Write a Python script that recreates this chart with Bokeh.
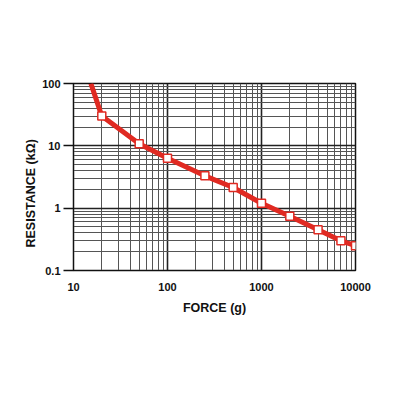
from bokeh.plotting import figure
from bokeh.models import FixedTicker, CustomJSTickFormatter, Title
from bokeh.embed import file_html
from bokeh.resources import INLINE

# data
force_g = [15.3, 20, 50, 100, 250, 500, 1000, 2000, 4000, 7000, 10000]
resistance_kohm = [100, 30, 10.8, 6.3, 3.3, 2.15, 1.2, 0.74, 0.45, 0.30, 0.25]
marker_force = force_g[1:]
marker_res = resistance_kohm[1:]

x_major = [10, 100, 1000, 10000]
y_major = [0.1, 1, 10, 100]
x_minor = [m * d for d in [10, 100, 1000] for m in range(2, 10)]
y_minor = [m * d for d in [0.1, 1, 10] for m in range(2, 10)]

p = figure(width=385, height=385, x_axis_type="log", y_axis_type="log",
           x_range=(10, 10000), y_range=(0.1, 100),
           output_backend="svg", toolbar_location=None,
           min_border_left=73, min_border_right=30, min_border_top=83, min_border_bottom=115)
p.background_fill_color = "white"
p.outline_line_color = "#111111"
p.outline_line_width = 1.5

p.xaxis.ticker = FixedTicker(ticks=x_major, minor_ticks=x_minor)
p.yaxis.ticker = FixedTicker(ticks=y_major, minor_ticks=y_minor)
p.xaxis.formatter = CustomJSTickFormatter(code="return String(tick);")
p.yaxis.formatter = CustomJSTickFormatter(code="return String(tick);")

for g in (p.xgrid, p.ygrid):
    g.grid_line_color = "#222222"
    g.grid_line_width = 1.6
    g.grid_line_alpha = 1
    g.minor_grid_line_color = "#555555"
    g.minor_grid_line_width = 1

for ax in (p.xaxis, p.yaxis):
    ax.axis_line_color = "#111111"
    ax.minor_tick_line_color = None
    ax.major_label_text_font = "Liberation Sans"
    ax.major_label_text_font_style = "bold"
    ax.major_label_text_font_size = "11px"
    ax.major_label_text_color = "#111111"
    ax.axis_label_text_font = "Liberation Sans"
    ax.axis_label_text_font_style = "bold"
    ax.axis_label_text_font_size = "12.5px"
    ax.axis_label_text_color = "#111111"
    ax.major_tick_line_color = "#111111"
    ax.major_tick_line_width = 1.5

p.xaxis.major_tick_out = 0
p.xaxis.major_tick_in = 0
p.xaxis.major_label_standoff = 8
p.xaxis.axis_label = "FORCE (g)"
p.xaxis.axis_label_standoff = 7

p.yaxis.major_tick_out = 10
p.yaxis.major_tick_in = 0
p.yaxis.major_label_standoff = 3

ytitle = Title(text="RESISTANCE (kΩ)", align="left", offset=23,
               standoff=4, text_font="Liberation Sans", text_font_style="bold",
               text_font_size="12.5px", text_color="#111111")
p.add_layout(ytitle, "left")

p.line(force_g, resistance_kohm, line_color="#e02a22", line_width=5)
p.scatter(marker_force, marker_res, marker="square", size=8,
          fill_color="white", line_color="#e02a22", line_width=1.5)

open("out.html", "w").write(file_html(p, INLINE))
